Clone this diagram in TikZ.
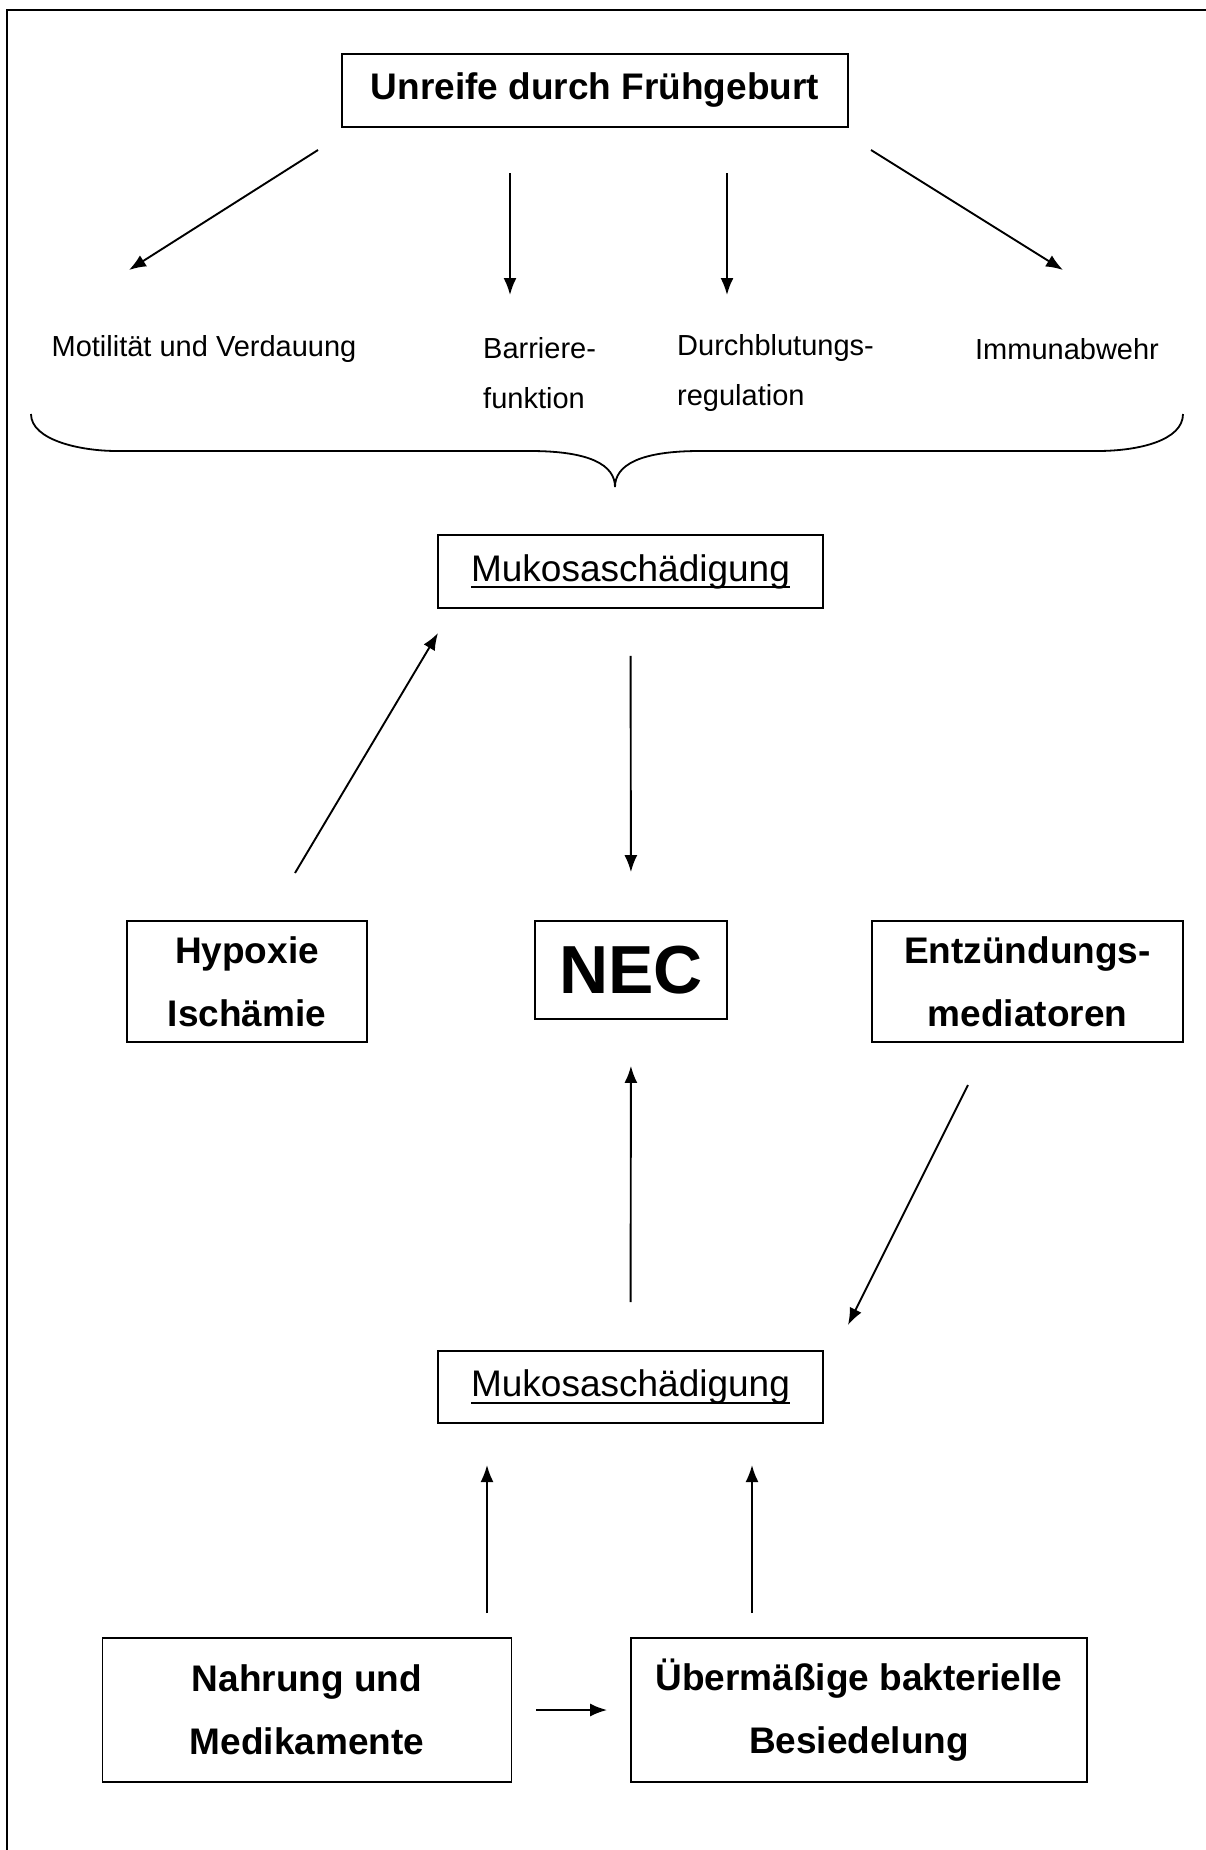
\documentclass[tikz,border=0pt]{standalone}
\usepackage{fontspec}
\setmainfont{Liberation Sans}
\usetikzlibrary{arrows.meta}
\newcommand{\wordline}[1]{\setbox0\hbox{#1}\rlap{\rule[-7pt]{\wd0}{1.8pt}}\box0}

\begin{document}
\begin{tikzpicture}[x=1pt, y=-1pt]
      \tikzstyle{arrow} = [line width=1.9pt, -{Latex[length=17pt,width=13pt]}]
      \tikzstyle{startbox} = [rectangle, draw=black, line width=1.8pt, text centered, align=center, inner sep=0pt]
      \tikzstyle{bigtext} = [font=\fontsize{37}{63}\selectfont\bfseries]
      \tikzstyle{normtext} = [font=\fontsize{37}{63}\selectfont]
      \tikzstyle{smalltext} = [font=\fontsize{29}{50}\selectfont]

      \useasboundingbox (0,0) rectangle (1206,1850);
      \draw[line width=2pt] (1206,10) -- (7,10) -- (7,1850);

      % boxes
      \node (unreife) [startbox, bigtext, minimum width=506pt, minimum height=73pt] at (595, 90.5) {Unreife durch Frühgeburt};
      \node (muko-A) [startbox, normtext, minimum width=385pt, minimum height=73pt] at (630.5, 571.5) {\wordline{Mukosaschädigung}};
      \node (hypoxie) [startbox, bigtext, minimum width=240pt, minimum height=121pt] at (247, 981.5) {Hypoxie\\Ischämie};
      \node (nec) [startbox, font=\fontsize{68}{80}\selectfont\bfseries, minimum width=192pt, minimum height=98pt] at (631, 970) {NEC};
      \node (entz) [startbox, bigtext, minimum width=311pt, minimum height=121pt] at (1027.5, 981.5) {Entzündungs-\\mediatoren};
      \node (muko-B) [startbox, normtext, minimum width=385pt, minimum height=72pt] at (630.5, 1387) {\wordline{Mukosaschädigung}};
      \node (nahrung) [startbox, bigtext, minimum width=409pt, minimum height=144pt] at (307, 1710) {Nahrung und\\Medikamente};
      \node (besied) [startbox, bigtext, minimum width=456pt, minimum height=144pt] at (859, 1710) {Übermäßige bakterielle\\Besiedelung};

      % labels
      \node (motil) [smalltext] at (204, 349) {Motilität und Verdauung};
      \node (barriere) [smalltext, align=left, anchor=west, inner sep=0pt] at (483, 373) {Barriere-\\funktion};
      \node (durchbl) [smalltext, align=left, anchor=west, inner sep=0pt] at (677, 373) {Durchblutungs-\\regulation};
      \node (immun) [smalltext] at (1067, 349) {Immunabwehr};

      \foreach \name/\sx/\sy/\ex/\ey in {1/318/150/129/270, 2/510/173/510/295, 3/727/173/727/295, 4/871/150/1063/270}
      {
        \coordinate (top-s-\name) at (\sx, \sy);
        \coordinate (top-e-\name) at (\ex, \ey);
        \draw [arrow] (top-s-\name) -- (top-e-\name);
      }

      % brace
      \draw[line width=1.8pt] (31,414) .. controls (31,440) and (80,451) .. (117,451) -- (530,451)
            .. controls (590,451) and (615,465) .. (615,487)
            .. controls (615,465) and (640,451) .. (700,451) -- (1097,451)
            .. controls (1140,451) and (1183,440) .. (1183,414);

      \coordinate (hyp-s) at (295, 873);
      \coordinate (hyp-e) at (438, 633);
      \coordinate (entz-s) at (968, 1085);
      \coordinate (entz-e) at (848, 1325);
      \coordinate (nahr-s) at (487, 1613);
      \coordinate (nahr-e) at (487, 1465);
      \coordinate (bes-s) at (752, 1613);
      \coordinate (bes-e) at (752, 1465);

      \draw [arrow] (hyp-s) -- (hyp-e);
      \draw [arrow, shorten <=47pt, shorten >=48pt] (muko-A.south) -- (nec.north);
      \draw [arrow, shorten <=48pt, shorten >=46pt] (muko-B.north) -- (nec.south);
      \draw [arrow] (entz-s) -- (entz-e);
      \draw [arrow] (nahr-s) -- (nahr-e);
      \draw [arrow] (bes-s) -- (bes-e);
      \draw [arrow, shorten <=24pt, shorten >=23pt] (nahrung.east) -- (besied.west);
\end{tikzpicture}
\end{document}
